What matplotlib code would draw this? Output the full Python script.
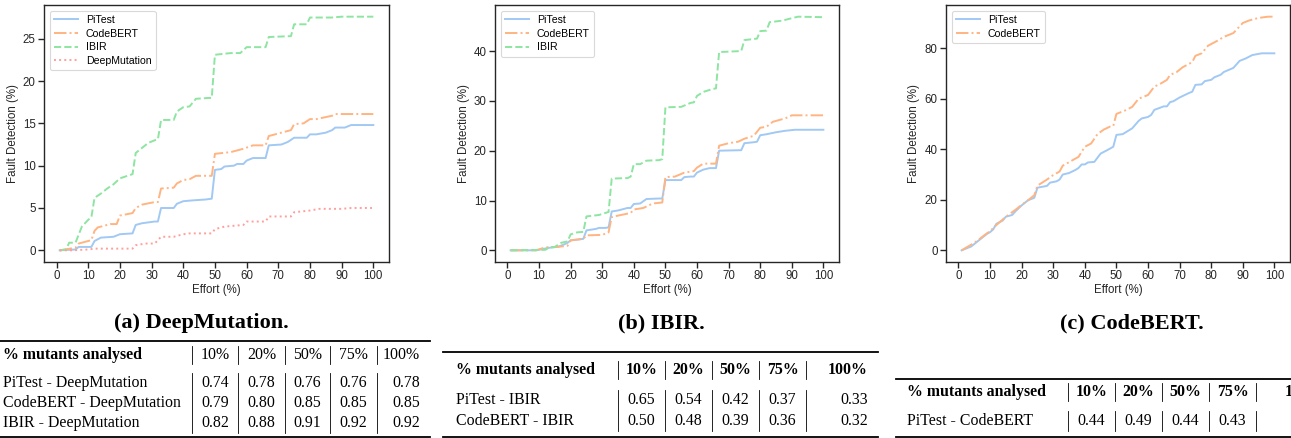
import matplotlib
matplotlib.use("Agg")
import matplotlib.pyplot as plt
from matplotlib.lines import Line2D

W, H = 1291, 438

# ---------------- data ----------------
# Plot (a): DeepMutation
a_pitest_x = [1, 6, 7, 11, 12, 14, 18, 20, 24, 25, 27, 31, 32, 33, 37, 38, 40, 43, 47, 49, 50, 52, 53, 56, 57, 59, 60, 62, 66, 67, 71, 73, 75, 79, 80, 82, 85, 87, 88, 91, 93, 100]
a_pitest_y = [0, 0.1, 0.4, 0.4, 1.1, 1.5, 1.6, 1.9, 2.0, 3.0, 3.2, 3.4, 3.4, 5.0, 5.0, 5.5, 5.8, 5.9, 6.0, 6.1, 9.5, 9.6, 9.9, 10.0, 10.2, 10.2, 10.6, 10.9, 10.9, 12.4, 12.5, 12.8, 13.3, 13.3, 13.7, 13.7, 13.9, 14.2, 14.5, 14.5, 14.8, 14.8]
a_codebert_x = [1, 6, 7, 11, 12, 13, 17, 19, 20, 24, 25, 27, 31, 32, 33, 37, 38, 40, 42, 44, 49, 50, 55, 59, 62, 66, 67, 69, 72, 74, 75, 78, 80, 82, 87, 88, 100]
a_codebert_y = [0, 0.3, 0.8, 1.2, 2.3, 2.7, 3.1, 3.1, 4.1, 4.4, 5.0, 5.4, 5.7, 5.7, 7.3, 7.4, 7.9, 8.3, 8.4, 8.8, 8.8, 11.4, 11.6, 12.0, 12.4, 12.4, 13.5, 13.7, 14.0, 14.2, 14.9, 15.0, 15.5, 15.5, 15.9, 16.1, 16.1]
a_ibir_x = [1, 3, 4, 6, 8, 10, 11, 12, 14, 16, 18, 20, 24, 25, 29, 31, 32, 33, 37, 38, 40, 42, 44, 48, 49, 50, 55, 58, 60, 66, 67, 74, 75, 79, 80, 87, 90, 100]
a_ibir_y = [0, 0.1, 0.9, 0.9, 2.8, 3.6, 3.9, 6.2, 6.7, 7.3, 7.8, 8.5, 9.0, 11.5, 12.7, 13.0, 13.1, 15.4, 15.4, 16.4, 16.9, 17.0, 17.9, 18.0, 18.0, 23.1, 23.3, 23.3, 24.0, 24.0, 25.2, 25.3, 26.7, 26.7, 27.5, 27.5, 27.6, 27.6]
a_deep_x = [1, 5, 10, 12, 24, 25, 28, 31, 33, 37, 40, 42, 49, 50, 53, 59, 60, 66, 67, 74, 75, 80, 83, 90, 93, 100]
a_deep_y = [0, 0, 0.1, 0.2, 0.2, 0.6, 0.8, 0.8, 1.6, 1.6, 1.9, 2.0, 2.0, 2.5, 2.8, 3.0, 3.4, 3.4, 4.0, 4.0, 4.5, 4.7, 4.9, 4.9, 5.0, 5.0]

# Plot (b): IBIR
b_pitest_x = [1, 9, 10, 13, 16, 18, 19, 20, 24, 25, 28, 29, 31, 32, 33, 35, 38, 39, 40, 42, 44, 48, 49, 50, 55, 56, 58, 59, 60, 62, 64, 66, 67, 74, 75, 78, 79, 80, 82, 85, 88, 91, 100]
b_pitest_y = [0, 0, 0.1, 0.5, 0.7, 1.2, 1.5, 2.0, 2.3, 4.0, 4.3, 4.5, 4.5, 4.6, 7.8, 8.0, 8.5, 8.5, 9.3, 9.4, 10.3, 10.4, 10.4, 14.1, 14.1, 14.7, 14.8, 14.8, 15.6, 16.2, 16.5, 16.5, 20.0, 20.1, 21.5, 21.7, 21.8, 23.1, 23.3, 23.7, 24.0, 24.2, 24.2]
b_codebert_x = [1, 9, 10, 12, 16, 19, 20, 24, 25, 30, 32, 33, 36, 39, 40, 43, 46, 49, 50, 53, 56, 59, 60, 62, 66, 67, 70, 73, 75, 78, 80, 82, 84, 88, 90, 100]
b_codebert_y = [0, 0, 0.2, 0.6, 0.7, 0.9, 2.0, 2.3, 3.0, 3.1, 3.6, 6.7, 7.1, 7.5, 8.2, 8.5, 9.4, 9.6, 14.7, 14.8, 15.6, 15.9, 16.6, 17.4, 17.4, 21.0, 21.5, 21.8, 22.4, 23.0, 24.6, 24.8, 25.8, 26.5, 27.1, 27.1]
b_ibir_x = [1, 12, 13, 15, 17, 19, 20, 22, 24, 25, 29, 32, 33, 38, 39, 40, 42, 44, 48, 49, 50, 55, 58, 59, 60, 62, 65, 66, 67, 74, 75, 79, 80, 82, 83, 87, 90, 92, 100]
b_ibir_y = [0, 0.1, 0.5, 0.7, 1.5, 1.8, 3.2, 3.6, 3.7, 6.8, 7.1, 7.7, 14.4, 14.5, 14.8, 17.3, 17.3, 18.0, 18.1, 18.3, 28.7, 28.8, 29.6, 29.7, 31.0, 31.8, 32.4, 32.5, 39.8, 40.0, 42.2, 42.5, 44.0, 44.1, 45.8, 46.1, 46.6, 46.9, 46.8]

# Plot (c): CodeBERT
c_pitest_x = [1, 3, 4, 5, 7, 8, 9, 10, 11, 12, 14, 15, 17, 18, 20, 22, 24, 25, 28, 29, 31, 32, 33, 35, 37, 38, 39, 40, 41, 43, 45, 47, 49, 50, 52, 55, 57, 58, 60, 61, 62, 65, 66, 67, 68, 70, 73, 74, 75, 77, 78, 80, 81, 83, 84, 87, 89, 91, 93, 96, 100]
c_pitest_y = [0, 1.0, 1.5, 2.5, 4.5, 5.5, 6.5, 7.2, 8.3, 10.5, 11.8, 13.3, 14.0, 15.4, 17.8, 19.8, 20.8, 24.8, 25.5, 26.8, 27.3, 28.0, 30.0, 30.6, 31.8, 32.6, 34.0, 34.0, 34.8, 35.0, 38.3, 39.6, 41.0, 45.7, 46.0, 48.3, 51.2, 52.2, 52.8, 53.6, 55.6, 57.0, 57.0, 58.7, 59.0, 60.5, 62.3, 62.8, 65.5, 65.7, 67.0, 67.5, 68.5, 69.5, 70.6, 72.2, 75.0, 76.0, 77.3, 78.0, 78.0]
c_codebert_x = [1, 3, 4, 6, 8, 10, 12, 14, 16, 18, 20, 22, 24, 25, 28, 30, 32, 33, 36, 38, 40, 42, 44, 46, 48, 49, 50, 53, 55, 57, 60, 62, 64, 66, 67, 69, 71, 74, 75, 77, 79, 82, 84, 87, 90, 92, 95, 98, 100]
c_codebert_y = [0, 1.5, 2.2, 3.8, 5.8, 7.6, 10.0, 12.2, 14.2, 16.0, 18.0, 19.8, 21.8, 25.6, 28.0, 29.8, 31.2, 33.5, 35.6, 37.0, 41.0, 42.3, 46.0, 47.8, 49.0, 49.2, 54.0, 55.5, 56.8, 60.0, 61.5, 64.8, 66.0, 67.5, 69.5, 70.5, 72.5, 74.5, 77.0, 78.0, 81.0, 83.0, 84.5, 86.0, 90.0, 91.0, 92.0, 92.5, 92.5]

x_ticks = [0, 10, 20, 30, 40, 50, 60, 70, 80, 90, 100]
captions = ["(a) DeepMutation.", "(b) IBIR.", "(c) CodeBERT."]

# tables
table_cols = ["10%", "20%", "50%", "75%", "100%"]
table_head = "% mutants analysed"
ta_rows = ["PiTest - DeepMutation", "CodeBERT - DeepMutation", "IBIR - DeepMutation"]
ta_vals = [[0.74, 0.78, 0.76, 0.76, 0.78],
           [0.79, 0.80, 0.85, 0.85, 0.85],
           [0.82, 0.88, 0.91, 0.92, 0.92]]
tb_rows = ["PiTest - IBIR", "CodeBERT - IBIR"]
tb_vals = [[0.65, 0.54, 0.42, 0.37, 0.33],
           [0.50, 0.48, 0.39, 0.36, 0.32]]
tc_rows = ["PiTest - CodeBERT"]
tc_vals = [[0.44, 0.49, 0.44, 0.43]]

# ---------------- style ----------------
C_PI, C_CB, C_IB, C_DM = "#a1c9f4", "#ffb482", "#8de5a1", "#ff9f9b"
DARK = "#262626"
SANS = ["Liberation Sans", "DejaVu Sans"]
SERIF = ["Liberation Serif", "DejaVu Serif"]

plt.rcParams.update({
    "font.family": SANS,
    "axes.edgecolor": DARK,
    "axes.linewidth": 1.0,
    "xtick.color": DARK, "ytick.color": DARK,
    "xtick.labelcolor": DARK, "ytick.labelcolor": DARK,
    "xtick.major.size": 4, "ytick.major.size": 4,
    "xtick.major.width": 1.0, "ytick.major.width": 1.0,
    "xtick.labelsize": 8.3, "ytick.labelsize": 8.3,
    "axes.labelsize": 8.3, "axes.labelcolor": DARK,
})

fig = plt.figure(figsize=(W / 100, H / 100), dpi=100)

def fx(x):
    return x / W

def fy(y):
    return 1 - y / H

def add_ax(left, right, top, bottom):
    return fig.add_axes([fx(left), fy(bottom), (right - left) / W, (bottom - top) / H])

LW = 1.4
ax_a = add_ax(44, 389, 5, 262)
ax_a.plot(a_pitest_x, a_pitest_y, color=C_PI, lw=LW, ls="-", label="PiTest")
ax_a.plot(a_codebert_x, a_codebert_y, color=C_CB, lw=LW, ls="-.", label="CodeBERT")
ax_a.plot(a_ibir_x, a_ibir_y, color=C_IB, lw=LW, ls="--", label="IBIR")
ax_a.plot(a_deep_x, a_deep_y, color=C_DM, lw=LW, ls=":", label="DeepMutation")
ax_a.set_yticks([0, 5, 10, 15, 20, 25])

ax_b = add_ax(495, 839, 5, 262)
ax_b.plot(b_pitest_x, b_pitest_y, color=C_PI, lw=LW, ls="-", label="PiTest")
ax_b.plot(b_codebert_x, b_codebert_y, color=C_CB, lw=LW, ls="-.", label="CodeBERT")
ax_b.plot(b_ibir_x, b_ibir_y, color=C_IB, lw=LW, ls="--", label="IBIR")
ax_b.set_yticks([0, 10, 20, 30, 40])

ax_c = add_ax(946, 1290, 5, 262)
ax_c.plot(c_pitest_x, c_pitest_y, color=C_PI, lw=LW, ls="-", label="PiTest")
ax_c.plot(c_codebert_x, c_codebert_y, color=C_CB, lw=LW, ls="-.", label="CodeBERT")
ax_c.set_yticks([0, 20, 40, 60, 80])

for ax in (ax_a, ax_b, ax_c):
    ax.set_xticks(x_ticks)
    ax.set_xlabel("Effort (%)", labelpad=1)
    ax.set_ylabel("Fault Detection (%)", labelpad=3)
    ax.tick_params(pad=2)
    leg = ax.legend(loc="upper left", fontsize=7.6, frameon=True, fancybox=True,
                    borderpad=0.4, labelspacing=0.35, handlelength=2.3, handletextpad=0.7,
                    borderaxespad=0.55)
    leg.get_frame().set_edgecolor("#d0d0d0")
    leg.get_frame().set_linewidth(0.8)

# captions
for cx, txt in zip([201, 661, 1132], captions):
    fig.text(fx(cx), fy(323), txt, ha="center", va="center", fontsize=16,
             fontweight="bold", family=SERIF, color="black")

# ---------------- tables ----------------
def hrule(x0, x1, y, lw):
    fig.add_artist(Line2D([fx(x0), fx(x1)], [fy(y), fy(y)], color="black", lw=lw))

def vbar(x, y0, y1):
    fig.add_artist(Line2D([fx(x), fx(x)], [fy(y0), fy(y1)], color="black", lw=0.6))

def draw_table(x0, x1, label_x, seps, last_right, top, head_y, row_ys, bottom,
               rows, vals, head_bold_cols):
    hrule(x0, x1, top, 1.3)
    hrule(x0, x1, bottom, 1.3)
    fs = 11.4
    fig.text(fx(label_x), fy(head_y), table_head, ha="left", va="center",
             fontsize=fs, fontweight="bold", family=SERIF)
    centers = [(seps[i] + seps[i + 1]) / 2 for i in range(len(seps) - 1)]
    for i, col in enumerate(table_cols):
        if i < len(centers):
            fig.text(fx(centers[i]), fy(head_y), col, ha="center", va="center", fontsize=fs,
                     fontweight="bold" if head_bold_cols else "normal", family=SERIF)
        else:
            fig.text(fx(last_right), fy(head_y), col, ha="right", va="center", fontsize=fs,
                     fontweight="bold" if head_bold_cols else "normal", family=SERIF)
    for s in seps:
        vbar(s, head_y - 9, head_y + 9)
        vbar(s, row_ys[0] - 10, row_ys[-1] + 10)
    for ry, name, rv in zip(row_ys, rows, vals):
        fig.text(fx(label_x), fy(ry), name, ha="left", va="center", fontsize=fs, family=SERIF)
        for i, v in enumerate(rv):
            if i < len(centers):
                fig.text(fx(centers[i]), fy(ry), f"{v:.2f}", ha="center", va="center",
                         fontsize=fs, family=SERIF)
            else:
                fig.text(fx(last_right), fy(ry), f"{v:.2f}", ha="right", va="center",
                         fontsize=fs, family=SERIF)

draw_table(0, 430, 3, [192, 238, 285, 330, 377], 420, 341, 355, [383, 403, 423], 437,
           ta_rows, ta_vals, False)
draw_table(443, 878, 456, [618, 665, 712, 759, 806], 868, 352, 370, [400, 421], 437,
           tb_rows, tb_vals, True)
draw_table(896, 1300, 907, [1068, 1115, 1162, 1209, 1256], 1325, 379, 392, [421], 437,
           tc_rows, tc_vals, True)

fig.savefig("out.png", dpi=100)
